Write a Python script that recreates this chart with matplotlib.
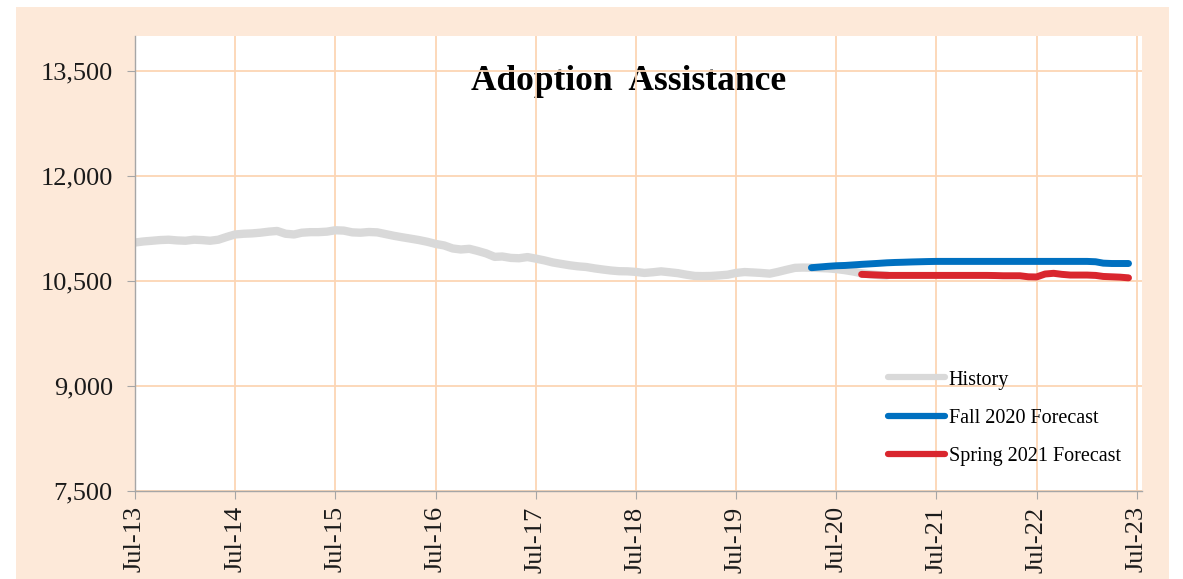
import matplotlib
matplotlib.use("Agg")
import matplotlib.pyplot as plt
import matplotlib.dates as mdates
from matplotlib.lines import Line2D
from matplotlib.patches import Rectangle
from matplotlib.ticker import FuncFormatter
import pandas as pd

# monthly caseload
history_start = "2013-07-01"
history = [
    11050, 11065, 11075, 11085, 11090, 11080, 11075, 11090, 11085, 11075, 11090, 11130,
    11165, 11175, 11180, 11190, 11205, 11215, 11175, 11165, 11190, 11198, 11198, 11205,
    11225, 11220, 11195, 11190, 11200, 11195, 11170, 11145, 11125, 11105, 11085, 11060,
    11030, 11008, 10965, 10950, 10960, 10930, 10895, 10845, 10850, 10830, 10825, 10842,
    10820, 10795, 10765, 10745, 10725, 10710, 10700, 10680, 10665, 10650, 10640, 10638,
    10630, 10615, 10625, 10638, 10625, 10612, 10590, 10572, 10570, 10572, 10580, 10590,
    10615, 10628, 10622, 10615, 10605, 10630, 10660, 10688, 10692, 10690, 10685, 10680,
    10670, 10655, 10635, 10610, 10595, 10585, 10580,
]

fall_start = "2020-04-01"
fall_2020 = [
    10690, 10700, 10710, 10718, 10722, 10730, 10738, 10745, 10752, 10760, 10765, 10768,
    10772, 10775, 10778, 10780, 10780, 10780, 10780, 10780, 10780, 10780, 10780, 10780,
    10780, 10780, 10780, 10780, 10780, 10780, 10780, 10780, 10780, 10780, 10775, 10755,
    10750, 10750, 10750,
]

spring_start = "2020-10-01"
spring_2021 = [
    10595, 10590, 10585, 10580, 10580, 10580, 10580, 10580, 10580, 10580, 10580, 10580,
    10580, 10580, 10580, 10580, 10578, 10575, 10575, 10575, 10560, 10558, 10600, 10610,
    10595, 10585, 10585, 10585, 10580, 10565, 10560, 10555, 10545,
]

labels = ["History", "Fall 2020 Forecast", "Spring 2021 Forecast"]
colors = ["#d9d9d9", "#0070c0", "#d9262e"]

y_ticks = [7500, 9000, 10500, 12000, 13500]

plt.rcParams['font.family'] = ['Liberation Serif', 'DejaVu Serif']

fig = plt.figure(figsize=(11.83, 5.79), dpi=100)
fig.patch.set_facecolor("white")
fig.patches.append(Rectangle((16 / 1183, 0), (1169 - 16) / 1183, 1 - 7 / 579,
                             transform=fig.transFigure, facecolor="#fde9d9",
                             edgecolor="none", zorder=-10))

ax = fig.add_axes([0.1141, 0.152, 0.8512, 0.7858])
ax.set_facecolor("white")

series = [
    (pd.date_range(history_start, periods=len(history), freq="MS"), history, 6.0),
    (pd.date_range(fall_start, periods=len(fall_2020), freq="MS"), fall_2020, 5.0),
    (pd.date_range(spring_start, periods=len(spring_2021), freq="MS"), spring_2021, 5.0),
]
for (x, y, lw), c in zip(series, colors):
    ax.plot(x, y, color=c, lw=lw, solid_capstyle="round", solid_joinstyle="round")

ax.set_xlim(pd.Timestamp("2013-07-01"), pd.Timestamp("2023-07-20"))
ax.set_ylim(7500, 14000)
ax.set_yticks(y_ticks)
ax.yaxis.set_major_formatter(FuncFormatter(lambda v, p: f"{int(v):,}"))
ax.xaxis.set_major_locator(mdates.YearLocator(base=1, month=7, day=1))
ax.xaxis.set_major_formatter(mdates.DateFormatter("%b-%y"))

ax.set_axisbelow(True)
ax.grid(True, color="#fcd5b4", lw=1.3)
for s in ["top", "right"]:
    ax.spines[s].set_visible(False)
for s in ["left", "bottom"]:
    ax.spines[s].set_color("#a6a6a6")
    ax.spines[s].set_linewidth(1.0)

ax.tick_params(axis="both", direction="out", length=6, color="#a6a6a6",
               labelsize=19, labelcolor="#1a1a1a")
ax.tick_params(axis="y", pad=10)
ax.tick_params(axis="x", pad=5, labelrotation=90)

ax.text(0.4906, 0.899, "Adoption  Assistance", transform=ax.transAxes,
        ha="center", va="center", fontsize=25.5, fontweight="bold", zorder=0.3)

handles = [Line2D([], [], color=c, lw=4.5, solid_capstyle="round") for c in colors]
ax.legend(handles, labels, loc="upper left", bbox_to_anchor=(0.748, 0.265),
          frameon=False, fontsize=14.5, handlelength=2.8, handletextpad=0.2,
          labelspacing=0.95, borderpad=0, borderaxespad=0)

fig.savefig("out.png", dpi=100, facecolor=fig.get_facecolor())
